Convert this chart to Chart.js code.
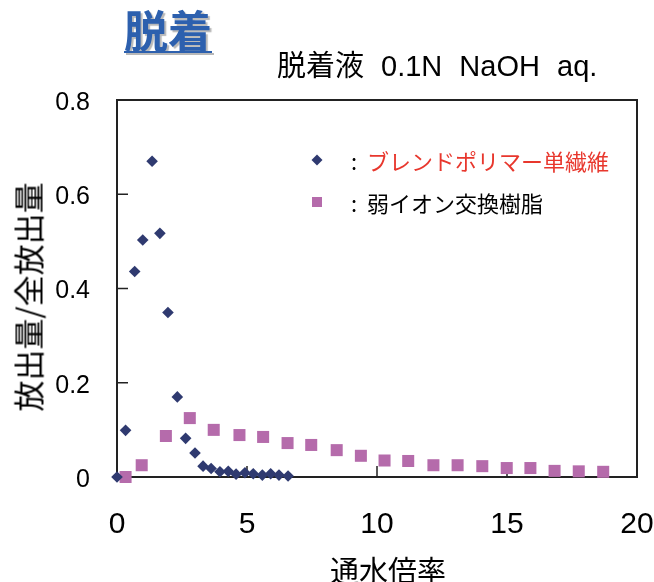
<!DOCTYPE html>
<html>
<head>
<meta charset="utf-8">
<script src="https://cdn.jsdelivr.net/npm/chart.js@4/dist/chart.umd.min.js"></script>
<style>
  html, body { margin: 0; padding: 0; background: #fff; }
  #wrap { position: relative; width: 654px; height: 582px; overflow: hidden; }
  #c { position: absolute; left: 0; top: 0; }
  .t { position: absolute; white-space: nowrap; font-family: "Noto Sans CJK JP", "Liberation Sans", sans-serif; color: #000; }
  #title { left: 124px; top: 7px; font-size: 44px; line-height: 44px; font-weight: bold; color: #2d60ae;
           text-decoration: underline; text-decoration-thickness: 2px; text-underline-offset: 3px;
           text-shadow: 2px 2px 1px #b8b8b8; }
  #sub { left: 277px; top: 50px; font-size: 29px; line-height: 32px; font-family: "Liberation Sans", "Noto Sans CJK JP", sans-serif; word-spacing: 9px; }
  #ytitle { left: 27px; top: 297px; font-size: 31px; line-height: 31px; transform: translate(-50%, -50%) rotate(-90deg); }
  #xtitle { left: 388px; top: 555px; font-size: 29px; line-height: 29px; transform: translateX(-50%); }
  .leg { font-size: 22px; line-height: 22px; }
  .colon { font-size: 22px; line-height: 22px; }
  .mk { position: absolute; }
</style>
</head>
<body>
<div id="wrap">
  <canvas id="c" width="654" height="582"></canvas>
  <div class="t" id="title">脱着</div>
  <div class="t" id="sub">脱着液 0.1N NaOH aq.</div>
  <div class="t" id="ytitle">放出量/全放出量</div>
  <div class="t" id="xtitle">通水倍率</div>
  <div class="mk" style="left:312px; top:155px; width:10px; height:10px; background:#2f3a70; transform: rotate(45deg) scale(0.78);"></div>
  <div class="t colon" style="left:351px; top:149px;">:</div>
  <div class="t leg" style="left:367px; top:149px; color:#e8372d;">ブレンドポリマー単繊維</div>
  <div class="mk" style="left:312px; top:197px; width:10px; height:10px; background:#b56bab;"></div>
  <div class="t colon" style="left:351px; top:191px;">:</div>
  <div class="t leg" style="left:367px; top:191px;">弱イオン交換樹脂</div>
</div>
<script>
// ---- data ----
const fiberX = [0, 0.33, 0.68, 0.99, 1.35, 1.65, 1.96, 2.32, 2.64, 3.0, 3.31, 3.62, 3.96, 4.28, 4.58, 4.92, 5.24, 5.59, 5.91, 6.23, 6.58];
const fiberY = [0, 0.099, 0.436, 0.503, 0.670, 0.517, 0.349, 0.170, 0.082, 0.051, 0.023, 0.018, 0.011, 0.012, 0.006, 0.009, 0.007, 0.004, 0.007, 0.004, 0.002];
const resinX = [0.33, 0.95, 1.88, 2.80, 3.72, 4.71, 5.62, 6.56, 7.47, 8.45, 9.38, 10.29, 11.2, 12.17, 13.1, 14.05, 14.99, 15.9, 16.83, 17.76, 18.7];
const resinY = [0, 0.025, 0.087, 0.125, 0.100, 0.089, 0.085, 0.072, 0.068, 0.057, 0.045, 0.035, 0.034, 0.025, 0.025, 0.023, 0.019, 0.019, 0.013, 0.012, 0.011];
const fiberLabel = 'ブレンドポリマー単繊維';
const resinLabel = '弱イオン交換樹脂';
const xTicks = [0, 5, 10, 15, 20];
const yTicks = [0, 0.2, 0.4, 0.6, 0.8];

const toPts = (xs, ys) => xs.map((x, i) => ({ x: x, y: ys[i] }));

const boxPlugin = {
  id: 'box',
  beforeDatasetsDraw(chart) {
    const { ctx, chartArea: a, scales } = chart;
    ctx.save();
    ctx.strokeStyle = '#222';
    ctx.lineWidth = 2;
    ctx.strokeRect(a.left, a.top, a.right - a.left, a.bottom - a.top);
    ctx.lineWidth = 1.5;
    ctx.beginPath();
    yTicks.slice(1, -1).forEach(v => {
      const y = scales.y.getPixelForValue(v);
      ctx.moveTo(a.left, y); ctx.lineTo(a.left + 11, y);
    });
    xTicks.slice(1, -1).forEach(v => {
      const x = scales.x.getPixelForValue(v);
      ctx.moveTo(x, a.bottom); ctx.lineTo(x, a.bottom - 11);
    });
    ctx.stroke();
    ctx.restore();
  }
};

new Chart(document.getElementById('c'), {
  type: 'scatter',
  data: {
    datasets: [
      { label: fiberLabel, data: toPts(fiberX, fiberY), pointStyle: 'rectRot', pointRadius: 5.8,
        backgroundColor: '#2f3a70', borderColor: '#2f3a70', borderWidth: 0, clip: false, pointHoverRadius: 5.8 },
      { label: resinLabel, data: toPts(resinX, resinY), pointStyle: 'rect', pointRadius: 8.5,
        backgroundColor: '#b56bab', borderColor: '#b56bab', borderWidth: 0, clip: false, pointHoverRadius: 8.5 }
    ]
  },
  options: {
    responsive: false,
    animation: false,
    devicePixelRatio: 1,
    events: [],
    layout: { padding: { left: 0, top: 100, right: 17, bottom: 0 } },
    plugins: { legend: { display: false }, tooltip: { enabled: false } },
    scales: {
      x: {
        type: 'linear', min: 0, max: 20,
        afterFit(s) { s.height = 105; s.paddingLeft = 0; s.paddingRight = 0; },
        afterBuildTicks(s) { s.ticks = xTicks.map(v => ({ value: v })); },
        grid: { display: false, drawTicks: false },
        border: { display: false },
        ticks: { padding: 30, color: '#000', maxRotation: 0, minRotation: 0,
          font: { family: '"Liberation Sans", sans-serif', size: 30 },
          callback: v => String(v) }
      },
      y: {
        type: 'linear', min: 0, max: 0.8,
        afterFit(s) { s.width = 117; s.paddingTop = 0; s.paddingBottom = 0; },
        afterBuildTicks(s) { s.ticks = yTicks.map(v => ({ value: v })); },
        grid: { display: false, drawTicks: false },
        border: { display: false },
        ticks: { padding: 27, color: '#000',
          font: { family: '"Liberation Sans", sans-serif', size: 25, lineHeight: '6px' },
          callback: v => ['', (v === 0 ? '0' : Number(v).toFixed(1))] }
      }
    }
  },
  plugins: [boxPlugin]
});
</script>
</body>
</html>
